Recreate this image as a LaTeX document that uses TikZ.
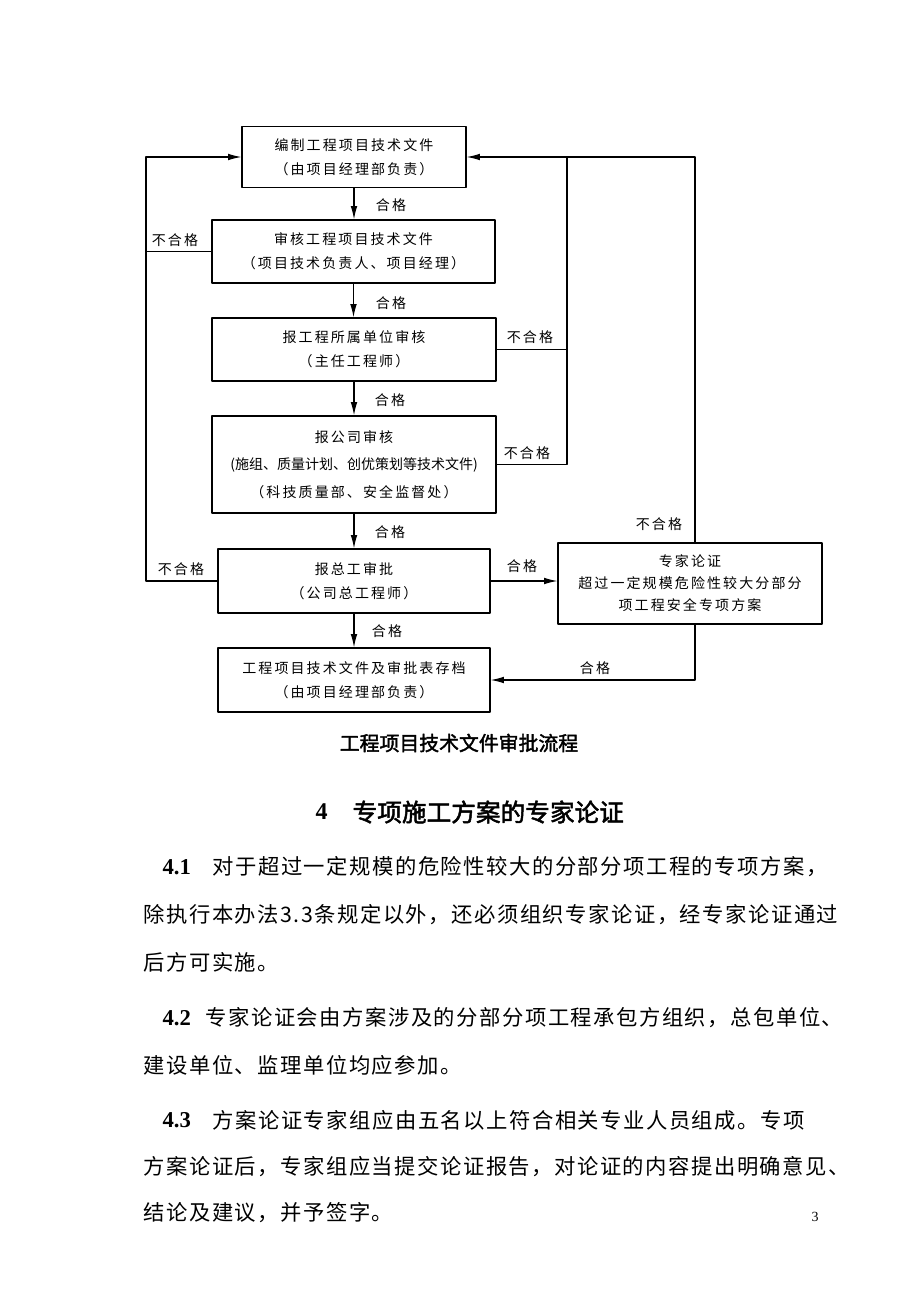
\documentclass[tikz,border=0pt]{standalone}
\usepackage{fontspec}
\setmainfont{Liberation Serif}
\newfontfamily\cjk{Noto Sans CJK SC}[AutoFakeBold=2]
\newfontfamily\cjkbox{Noto Sans CJK SC}[LetterSpace=15]
\newfontfamily\cjkbody{Noto Sans CJK SC}[LetterSpace=7]
\usetikzlibrary{arrows.meta}
\usetikzlibrary{positioning}

\begin{document}
\begin{tikzpicture}[line cap=round,line join=round,line width=0.9pt,>={Latex[length=10pt,width=5pt]},x=0.75pt,y=-0.75pt,
  box/.style={draw,line width=0.9pt,inner sep=0pt,align=center,font=\cjkbox\fontsize{10.5pt}{18pt}\selectfont},
  lbl/.style={inner sep=0pt,font=\cjkbox\fontsize{10.5pt}{12pt}\selectfont},
  bodyline/.style={anchor=west,inner sep=0pt,font=\cjkbody\fontsize{16pt}{16pt}\selectfont},
  secnum/.style={anchor=west,inner sep=0pt,font=\bfseries\fontsize{17pt}{17pt}\selectfont}]
  \fill[white] (0,0) rectangle (920,1302);
  \useasboundingbox (0,0) rectangle (920,1302);
  % flow chart
  \node[box,minimum width=168pt,minimum height=45.75pt] (b1) at (354,157) {编制工程项目技术文件\\（由项目经理部负责）};
  \node[box,minimum width=212.25pt,minimum height=47.25pt] (b2) at (353.5,251.5) {审核工程项目技术文件\\（项目技术负责人、项目经理）};
  \node[box,minimum width=213pt,minimum height=47.25pt] (b3) at (354,349.5) {报工程所属单位审核\\（主任工程师）};
  \node[box,minimum width=213pt,minimum height=72.75pt,font=\cjkbox\fontsize{10.5pt}{20.5pt}\selectfont] (b4) at (354,464.5) {报公司审核\\{\cjk (施组、质量计划、创优策划等技术文件)}\\（科技质量部、安全监督处）};
  \node[box,minimum width=204pt,minimum height=48pt] (b5) at (354,581) {报总工审批\\（公司总工程师）};
  \node[box,minimum width=204pt,minimum height=48pt] (b6) at (354,680) {工程项目技术文件及审批表存档\\（由项目经理部负责）};
  \node[box,minimum width=198pt,minimum height=60.75pt,font=\cjkbox\fontsize{10.5pt}{16.5pt}\selectfont] (ex) at (690,583.5) {专家论证\\超过一定规模危险性较大分部分\\项工程安全专项方案};
  \coordinate (leftrail) at (146,0);
  \coordinate (innerrail) at (567,0);
  \coordinate (outerrail) at (695,0);
  % pass
  \draw[->] (b1.south) -- (b1.south |- b2.north);
  \draw[->] (b2.south) -- (b2.south |- b3.north);
  \draw[->] (b3.south) -- (b3.south |- b4.north);
  \draw[->] (b4.south) -- (b4.south |- b5.north);
  \draw[->] (b5.south) -- (b5.south |- b6.north);
  \draw[->] (b5.east) -- (b5.east -| ex.west);
  \draw[->] (ex.south -| outerrail) |- (b6.east);
  % fail
  \draw[->] (b5.west) -- (b5.west -| leftrail) |- (b1.west);
  \draw (b2.west) -- (b2.west -| leftrail);
  \draw (b4.east) -- (b4.east -| innerrail) -- (innerrail |- b1.east);
  \draw (b3.east) -- (b3.east -| innerrail);
  \draw[->] (ex.north -| outerrail) |- (b1.east);
  % labels
  \node[lbl] (ok12) at (391,205) {合格};
  \node[lbl] (ok23) at (391,303) {合格};
  \node[lbl] (ok34) at (390,400) {合格};
  \node[lbl] (ok45) at (390,532) {合格};
  \node[lbl] (ok56) at (387,631) {合格};
  \node[lbl] (ok5e) at (522,566) {合格};
  \node[lbl] (oke6) at (595,668) {合格};
  \node[lbl] (ng2) at (175,240) {不合格};
  \node[lbl] (ng5) at (181,569) {不合格};
  \node[lbl] (ng3) at (530,337) {不合格};
  \node[lbl] (ng4) at (527,453) {不合格};
  \node[lbl] (nge) at (659,524) {不合格};
  \node[inner sep=0pt,font=\cjk\bfseries\fontsize{14.9pt}{15pt}\selectfont] (title) at (459,743) {工程项目技术文件审批流程};
  % text below
  \node[secnum,font=\bfseries\fontsize{18pt}{18pt}\selectfont] (h4) at (315,812) {4};
  \node[anchor=west,inner sep=0pt,font=\cjk\bfseries\fontsize{18.5pt}{18.5pt}\selectfont] (h4t) at (352,812) {专项施工方案的专家论证};
  \node[secnum] (n41) at (162,867) {4.1};
  \node[bodyline] (p1) at (212,867) {对于超过一定规模的危险性较大的分部分项工程的专项方案，};
  \node[bodyline] (p2) at (143,915) {除执行本办法3.3条规定以外，还必须组织专家论证，经专家论证通过};
  \node[bodyline] (p3) at (143,962) {后方可实施。};
  \node[secnum] (n42) at (162,1018) {4.2};
  \node[bodyline] (p4) at (205,1018) {专家论证会由方案涉及的分部分项工程承包方组织，总包单位、};
  \node[bodyline] (p5) at (143,1065) {建设单位、监理单位均应参加。};
  \node[secnum] (n43) at (162,1120) {4.3};
  \node[bodyline] (p6) at (212,1120) {方案论证专家组应由五名以上符合相关专业人员组成。专项};
  \node[bodyline] (p7) at (143,1167) {方案论证后，专家组应当提交论证报告，对论证的内容提出明确意见、};
  \node[bodyline] (p8) at (143,1213) {结论及建议，并予签字。};
  \node[inner sep=0pt,font=\fontsize{10.5pt}{12pt}\selectfont] (pg) at (815,1217) {3};
\end{tikzpicture}
\end{document}
